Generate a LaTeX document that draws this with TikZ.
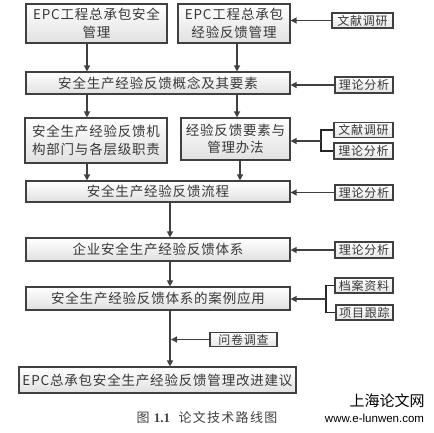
\documentclass[tikz,border=0pt]{standalone}
\usepackage{fontspec}
\usetikzlibrary{arrows.meta,calc}
\newfontfamily\cjk[LetterSpace=6]{Noto Sans CJK SC}
\newfontfamily\cjkcap[LetterSpace=10]{Noto Sans CJK SC}
\newfontfamily\cjkplain{Noto Sans CJK SC}
\newfontfamily\tnr{Liberation Serif}
\setsansfont{Liberation Sans}
\begin{document}
\begin{tikzpicture}[x=1pt,y=-1pt,
 box/.style={draw=black!75, line width=1.1pt, top color=white, bottom color=black!12, inner sep=0pt, align=center, font=\cjk\fontsize{13.5}{17.5}\selectfont, text=black!78},
 sbox/.style={draw=black!75, line width=1.1pt, top color=white, bottom color=black!10, inner sep=0pt, font=\cjk\fontsize{12}{14}\selectfont, text=black!78},
 arr/.style={draw=black!75, line width=1.2pt, -{Triangle[length=6pt,width=6pt]}},
 ln/.style={draw=black!85, line width=1.2pt}]
\useasboundingbox (0,0) rectangle (434,432);
% main boxes
\node[box, minimum width=141pt, minimum height=39pt] (r1l) at (96.5,23.5) {EPC工程总承包安全\\管理};
\node[box, minimum width=112pt, minimum height=39pt] (r1r) at (234,23.5) {EPC工程总承包\\经验反馈管理};
\node[box, minimum width=264pt, minimum height=22pt] (r2) at (158,83) {安全生产经验反馈概念及其要素};
\node[box, minimum width=142pt, minimum height=45pt] (r3l) at (96,140.5) {安全生产经验反馈机\\构部门与各层级职责};
\node[box, minimum width=109pt, minimum height=42pt] (r3r) at (235.5,139) {经验反馈要素与\\管理办法};
\node[box, minimum width=264pt, minimum height=21pt] (r4) at (158,191.5) {安全生产经验反馈流程};
\node[box, minimum width=264pt, minimum height=23pt] (r5) at (158,249.5) {企业安全生产经验反馈体系};
\node[box, minimum width=264pt, minimum height=23pt] (r6) at (158,298.5) {安全生产经验反馈体系的案例应用};
\node[box, minimum width=277pt, minimum height=26pt] (r7) at (157.5,380) {EPC总承包安全生产经验反馈管理改进建议};
% small boxes
\node[sbox, minimum width=61pt, minimum height=15pt] (s1) at (362.5,20.5) {文献调研};
\node[sbox, minimum width=58pt, minimum height=16pt] (s2) at (364,85) {理论分析};
\node[sbox, minimum width=59pt, minimum height=15pt] (s3a) at (363.5,130) {文献调研};
\node[sbox, minimum width=59pt, minimum height=16pt] (s3b) at (363.5,151) {理论分析};
\node[sbox, minimum width=58pt, minimum height=15pt] (s4) at (364,192.5) {理论分析};
\node[sbox, minimum width=58pt, minimum height=16pt] (s5) at (364,250) {理论分析};
\node[sbox, minimum width=58pt, minimum height=15pt] (s6a) at (364,285.5) {档案资料};
\node[sbox, minimum width=57pt, minimum height=15pt] (s6b) at (364.5,312.5) {项目跟踪};
\node[sbox, minimum width=67pt, minimum height=14pt] (s7) at (243.5,339.5) {问卷调查};
% helper coordinates
\coordinate (xa) at (87,0);
\coordinate (xb) at (237,0);
\coordinate (xc) at (240,0);
\coordinate (xm) at (170,0);
\coordinate (xm2) at (171,0);
\coordinate (b3) at (321,141);
\coordinate (b6) at (326,299);
% vertical arrows
\draw[arr] (r1l.south -| xa) -- (r2.north -| xa);
\draw[arr] (r1r.south -| xb) -- (r2.north -| xb);
\draw[arr] (r2.south -| xa) -- (r3l.north -| xa);
\draw[arr] (r2.south -| xb) -- (r3r.north -| xb);
\draw[arr] (r3l.south -| xa) -- (r4.north -| xa);
\draw[arr] (r3r.south -| xc) -- (r4.north -| xc);
\draw[arr] (r4.south -| xm) -- (r5.north -| xm);
\draw[arr] (r5.south -| xm) -- (r6.north -| xm);
\draw[arr] (r6.south -| xm) -- (r7.north -| xm);
% side arrows
\draw[arr] (s1.west) -- (s1.west -| r1r.east);
\draw[arr] (s2.west) -- (s2.west -| r2.east);
\draw[ln] (s3a.west) -| (b3) |- (s3b.west);
\draw[arr] (b3) -- (b3 -| r3r.east);
\draw[arr] (s4.west) -- (s4.west -| r4.east);
\draw[arr] (s5.west) -- (s5.west -| r5.east);
\draw[ln] (s6a.west) -| (b6) |- (s6b.west);
\draw[arr] (b6) -- (b6 -| r6.east);
\draw[arr] (s7.west) -- (s7.west -| xm2);
% caption and watermark
\node[font=\cjkcap\fontsize{13}{14}\selectfont, text=black!75] (cap) at (207,418) {图 {\tnr\bfseries 1.1}\ \ 论文技术路线图};
\node[font=\cjkplain\fontsize{15}{16}\selectfont] (wm1) at (387,401) {上海论文网};
\node[font=\sffamily\fontsize{11.5}{12}\selectfont] (wm2) at (374.5,418.5) {www.e-lunwen.com};
\end{tikzpicture}
\end{document}
